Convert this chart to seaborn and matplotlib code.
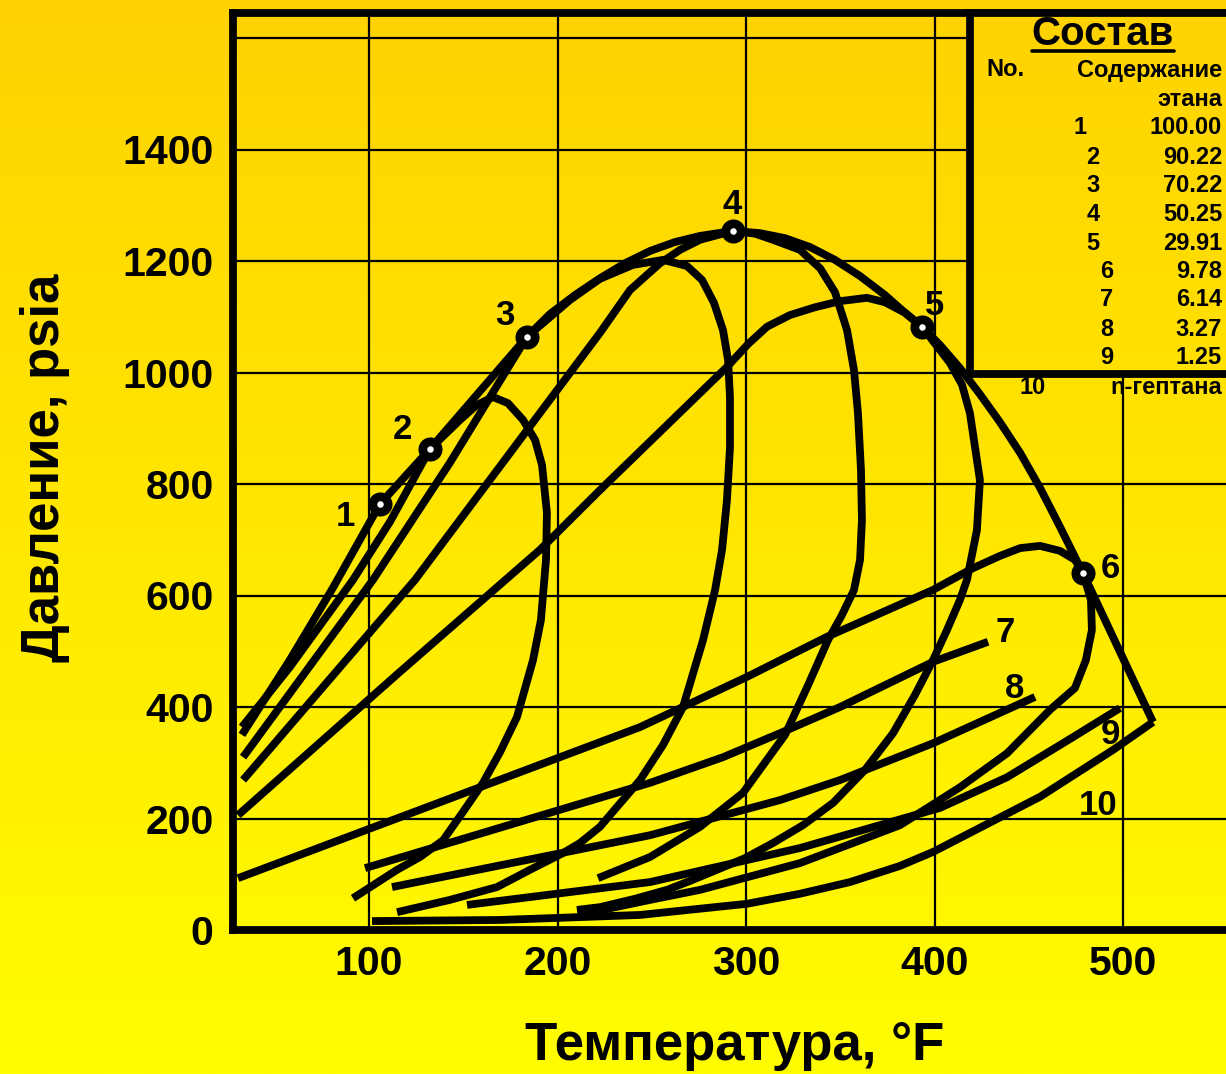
import numpy as np
import pandas as pd
import matplotlib
matplotlib.use("Agg")
import matplotlib.pyplot as plt
import seaborn as sns
from matplotlib.lines import Line2D

# ---------------- data ----------------
x_ticks = [100, 200, 300, 400, 500]
y_ticks = [0, 200, 400, 600, 800, 1000, 1200, 1400, 1600]
y_tick_labels = ["0", "200", "400", "600", "800", "1000", "1200", "1400", ""]

x_title = "Температура, °F"
y_title = "Давление, psia"

table_title = "Состав"
table_head_no = "No."
table_head_val = ["Содержание", "этана"]
comp_no = ["1", "2", "3", "4", "5", "6", "7", "8", "9"]
comp_ethane = ["100.00", "90.22", "70.22", "50.25", "29.91", "9.78", "6.14", "3.27", "1.25"]
last_no = "10"
last_name = "n-гептана"

curve_labels = ["1", "2", "3", "4", "5", "6", "7", "8", "9", "10"]

# critical points (on the critical locus)
crit_T = [105.8, 132.4, 183.8, 293.1, 393.4, 478.8]
crit_P = [764, 863, 1064, 1254, 1082, 640]

# critical locus
loc_T = [105.8, 132.4, 183.8, 196.0, 209.3, 222.5, 235.8, 249.1, 262.3, 275.6,
         293.1, 307.4, 320.7, 334.0, 347.2, 360.5, 373.7, 384.4, 393.4, 403.0,
         413.5, 424.1, 434.7, 445.4, 456.0, 466.6, 478.8, 515.9]
loc_P = [764, 863, 1064, 1105, 1139, 1169, 1196, 1218, 1234, 1245,
         1254, 1250, 1241, 1225, 1202, 1173, 1139, 1107, 1082, 1049,
         1008, 961, 911, 856, 793, 723, 640, 373]

# 1: ethane vapour pressure
c1_T = [32.6, 58.1, 80.9, 105.8]
c1_P = [350, 485, 614, 764]

# 2: 90.22 % ethane
c2_T = [32.6, 58.1, 91.5, 111.1, 132.4, 148.3, 157.3, 165.8, 173.7, 181.7,
        188.1, 191.8, 194.4, 193.9, 191.2, 187.0, 178.5, 169.5, 160.5, 149.9,
        139.3, 127.1, 114.9, 91.5]
c2_P = [364, 472, 628, 732, 863, 915, 942, 956, 945, 915,
        879, 834, 748, 664, 556, 484, 382, 319, 264, 212,
        161, 131, 108, 57]

# 3: 70.22 % ethane
c3_T = [33.2, 102.1, 142.9, 183.8, 206.6, 222.5, 240.0, 256.0, 268.7, 276.7, 283.0,
        287.8, 290.5, 291.5, 291.5, 289.9, 287.3, 283.6, 277.2, 266.6, 256.0,
        243.8, 222.5, 211.9, 202.9, 185.4, 167.9, 142.9, 114.9]
c3_P = [310, 628, 838, 1064, 1130, 1168, 1193, 1202, 1191, 1166, 1125,
        1076, 1022, 956, 866, 771, 682, 610, 520, 400, 332,
        269, 185, 156, 138, 108, 77, 54, 32]

# 4: 50.25 % ethane
c4_T = [33.2, 124.4, 222.5, 238.5, 254.4, 265.0, 275.6, 293.1, 304.8, 314.3,
        328.6, 339.3, 347.2, 353.6, 357.3, 359.4, 361.0, 361.5, 360.5, 357.3,
        350.9, 343.5, 332.9, 320.7, 298.4, 275.6, 249.1, 221.5]
c4_P = [269, 628, 1071, 1148, 1196, 1220, 1238, 1254, 1249, 1238,
        1220, 1187, 1144, 1076, 1004, 927, 825, 735, 664, 610,
        565, 520, 439, 350, 246, 185, 131, 93]

# 5: 29.91 % ethane
c5_T = [30.5, 116.4, 190.7, 222.5, 289.9, 301.1, 311.1, 323.3, 336.6, 349.9,
        364.2, 373.7, 384.4, 393.4, 408.2, 414.6, 418.8, 424.1, 422.5, 417.2,
        413.5, 406.6, 399.2, 389.7, 378.0, 363.1, 346.2, 330.2, 314.3, 299.5,
        284.6, 270.3, 258.1, 241.1, 222.5, 210.3]
c5_P = [206, 463, 682, 789, 1010, 1051, 1082, 1103, 1117, 1128,
        1134, 1126, 1107, 1082, 1017, 978, 927, 807, 717, 628,
        592, 538, 484, 422, 353, 287, 228, 188, 156, 129,
        108, 88, 72, 56, 41, 36]

# 6: 9.78 % ethane
c6_T = [30.5, 243.8, 300.5, 343.0, 399.2, 420.4, 434.7, 445.4, 456.0, 466.6,
        474.5, 478.8, 483.0, 483.5, 480.3, 474.5, 461.3, 438.5, 413.5, 381.7,
        328.6, 275.6, 249.1, 210.9]
c6_P = [93, 364, 454, 526, 610, 649, 671, 685, 689, 680,
        664, 640, 592, 538, 484, 434, 395, 317, 256, 188,
        120, 72, 54, 27]

# 7: 6.14 % ethane
c7_T = [97.9, 249.1, 287.8, 318.0, 349.9, 399.2, 428.4]
c7_P = [111, 264, 310, 353, 400, 481, 517]

# 8: 3.27 % ethane
c8_T = [112.2, 249.1, 318.0, 349.9, 399.2, 453.3]
c8_P = [77, 170, 233, 269, 335, 418]

# 9: 1.25 % ethane
c9_T = [152.0, 249.1, 328.6, 402.9, 438.5, 473.5, 498.4]
c9_P = [45, 86, 147, 219, 274, 346, 398]

# 10: n-heptane vapour pressure
c10_T = [101.6, 169.5, 243.8, 300.5, 328.6, 355.2, 381.7, 399.2, 456.0, 494.7, 515.9]
c10_P = [16, 18, 27, 47, 65, 86, 115, 140, 239, 323, 373]

# ---------------- style / layout ----------------
sns.set_theme(style="white")
plt.rcParams["font.family"] = ["Liberation Sans", "DejaVu Sans"]
plt.rcParams["font.weight"] = "bold"

W, H, DPI = 1226, 1074, 100
fig = plt.figure(figsize=(W / DPI, H / DPI), dpi=DPI)

TOP = np.array([255, 210, 0]) / 255.0
BOT = np.array([255, 253, 0]) / 255.0


def grad(y0, y1, n=400):
    f = np.linspace(y1, y0, n)[:, None]
    return (BOT * (1 - f) + TOP * f)[:, None, :]


bg = fig.add_axes([0, 0, 1, 1], zorder=-10)
bg.imshow(grad(0, 1), aspect="auto", extent=[0, 1, 0, 1], interpolation="bilinear")
bg.set_axis_off()

ax_l, ax_r, ax_t, ax_b = 233, 1226, 12.5, 930
PX_T, PX_P = 1.885, 0.5575
ax = fig.add_axes([ax_l / W, 1 - ax_b / H, (ax_r - ax_l) / W, (ax_b - ax_t) / H], zorder=1)
ax.patch.set_alpha(0)

LW = 5.6
curves = [(loc_T, loc_P), (c1_T, c1_P), (c2_T, c2_P), (c3_T, c3_P), (c4_T, c4_P),
          (c5_T, c5_P), (c6_T, c6_P), (c7_T, c7_P), (c8_T, c8_P), (c9_T, c9_P),
          (c10_T, c10_P)]
for T, P in curves:
    sns.lineplot(x=T, y=P, sort=False, estimator=None, color="black", linewidth=LW,
                 ax=ax, solid_joinstyle="round", solid_capstyle="butt", zorder=3)

sns.scatterplot(x=crit_T, y=crit_P, s=300, color="black", edgecolor="black",
                linewidth=0, ax=ax, zorder=5)
sns.scatterplot(x=crit_T, y=crit_P, s=22, color="white", edgecolor="white",
                linewidth=0, ax=ax, zorder=6)

x0 = 100 - (369 - ax_l) / PX_T
ax.set_xlim(x0, x0 + (ax_r - ax_l) / PX_T)
ax.set_ylim(0, (ax_b - ax_t) / PX_P)
ax.set_xticks(x_ticks)
ax.set_xticklabels([str(v) for v in x_ticks])
ax.set_yticks(y_ticks)
ax.set_yticklabels(y_tick_labels)
ax.tick_params(axis="both", length=0, labelsize=29.5, colors="black")
ax.tick_params(axis="y", pad=14)
ax.tick_params(axis="x", pad=11)
for lab in ax.get_xticklabels() + ax.get_yticklabels():
    lab.set_fontweight("bold")
ax.grid(True, color="black", linewidth=1.6)
ax.set_axisbelow(True)
for s in ["left", "bottom", "top"]:
    ax.spines[s].set_linewidth(5.6)
    ax.spines[s].set_color("black")
ax.spines["right"].set_visible(False)

ax.set_xlabel(x_title, fontsize=38, fontweight="bold", color="black")
ax.set_ylabel(y_title, fontsize=38, fontweight="bold", color="black")
ax.xaxis.set_label_coords((735 - ax_l) / (ax_r - ax_l), (ax_b - 1046) / (ax_b - ax_t))
ax.xaxis.label.set_va("center")
ax.yaxis.set_label_coords((45 - ax_l) / (ax_r - ax_l), (ax_b - 468) / (ax_b - ax_t))
ax.yaxis.label.set_va("center")

# curve number labels (positions in data units)
lbl_T = [87.3, 117.5, 172.1, 292.6, 400.3, 493.1, 437.4, 442.7, 493.1, 486.7]
lbl_P = [741, 897, 1103, 1302, 1121, 649, 533, 434, 350, 224]
for s, t, p in zip(curve_labels, lbl_T, lbl_P):
    ax.text(t, p, s, fontsize=25, fontweight="bold", ha="center", va="center",
            color="black", zorder=7)

# composition table box
bx_l, bx_b = 970, 374
box = fig.add_axes([bx_l / W, 1 - bx_b / H, (W + 30 - bx_l) / W, (bx_b - ax_t) / H], zorder=4)
box.imshow(grad(1 - bx_b / H, 1 - ax_t / H), aspect="auto", extent=[0, 1, 0, 1],
           interpolation="bilinear")
box.set_xlim(0, 1)
box.set_ylim(0, 1)
box.set_xticks([])
box.set_yticks([])
for sp in box.spines.values():
    sp.set_linewidth(5.6)
    sp.set_color("black")


def ftext(x, y, s, **kw):
    return fig.text(x / W, 1 - y / H, s, zorder=10, color="black", fontweight="bold", **kw)


title = ftext(1103, 34, table_title, fontsize=29, ha="center", va="center")
TS = 17
ftext(1005, 70, table_head_no, fontsize=TS, ha="center", va="center")
ftext(1222, 70, table_head_val[0], fontsize=TS, ha="right", va="center")
ftext(1222, 99, table_head_val[1], fontsize=TS, ha="right", va="center")
row_y = [128, 157, 186, 214, 243, 272, 300, 329, 357]
no_x = [1080, 1093, 1093, 1093, 1093, 1107, 1107, 1107, 1107]
for n, v, y, xn in zip(comp_no, comp_ethane, row_y, no_x):
    ftext(xn, y, n, fontsize=TS, ha="center", va="center")
    ftext(1222, y, v, fontsize=TS, ha="right", va="center")
ftext(1033, 387, last_no, fontsize=TS, ha="center", va="center")
ftext(1222, 387, last_name, fontsize=TS, ha="right", va="center")

fig.canvas.draw()
bb = title.get_window_extent(fig.canvas.get_renderer())
uy = (H - 51) / H
fig.add_artist(Line2D([bb.x0 / W, bb.x1 / W], [uy, uy], color="black", lw=2.6,
                      transform=fig.transFigure, zorder=10))

fig.savefig("out.png", dpi=DPI)
